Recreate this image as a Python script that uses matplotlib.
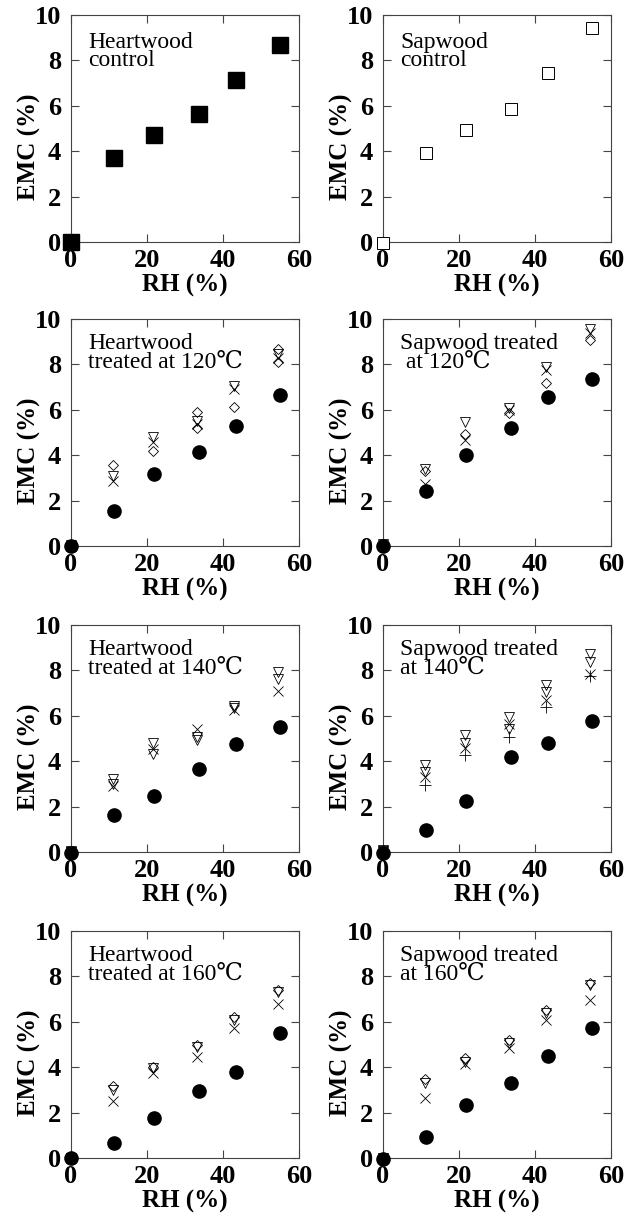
import numpy as np
import matplotlib
matplotlib.use("Agg")
import matplotlib.pyplot as plt

plt.rcParams['font.family'] = ['Liberation Serif', 'DejaVu Serif', 'Noto Sans CJK JP']

nan = np.nan

# RH levels (filled markers / open markers sit a little to the left)
rh = [0, 11.3, 21.9, 33.6, 43.4, 55.0]
rh_open = [0, 11.0, 21.5, 33.2, 43.0, 54.6]

# controls
hw_ctrl = [0, 3.72, 4.70, 5.66, 7.13, 8.68]
sw_ctrl = [-0.05, 3.93, 4.93, 5.88, 7.44, 9.41]

# 120 C
hw120_circ = [0, 1.52, 3.18, 4.13, 5.28, 6.63]
hw120_tri = [0.05, 3.10, 4.80, 5.50, 7.05, 8.45]
hw120_cross = [0, 2.88, 4.60, 5.37, 6.90, 8.30]
hw120_dia = [0, 3.58, 4.20, 5.92, 6.14, 8.70]
hw120_dia2 = [nan, nan, nan, 5.22, nan, 8.12]

sw120_circ = [0, 2.43, 4.00, 5.19, 6.55, 7.35]
sw120_tri = [0.1, 3.40, 5.45, 6.10, 7.90, 9.57]
sw120_cross = [0.05, 2.75, 4.65, 6.00, 7.75, 9.40]
sw120_dia = [0.05, 3.30, 4.92, 5.88, 7.20, 9.06]

# 140 C
hw140_circ = [-0.05, 1.62, 2.45, 3.66, 4.75, 5.50]
hw140_tri = [0.05, 3.20, 4.80, 5.05, 6.45, 7.95]
hw140_tri2 = [0, 3.00, 4.30, 4.95, 6.35, 7.60]
hw140_cross = [0, 2.92, 4.55, 5.40, 6.25, 7.10]

sw140_circ = [-0.05, 0.95, 2.25, 4.18, 4.80, 5.75]
sw140_tri = [0.1, 3.83, 5.15, 5.95, 7.34, 8.73]
sw140_tri2 = [0.05, 3.54, 4.78, 5.40, 7.04, 8.36]
sw140_cross = [0, 3.32, 4.56, 5.65, 6.68, 7.85]
sw140_plus = [0, 2.95, 4.27, 5.05, 6.39, 7.75]

# 160 C
hw160_circ = [0, 0.66, 1.78, 2.96, 3.81, 5.50]
hw160_dia = [0, 3.18, 4.03, 4.98, 6.22, 7.42]
hw160_tri = [0, 3.00, 3.95, 4.88, 6.08, 7.32]
hw160_cross = [0, 2.50, 3.73, 4.47, 5.71, 6.78]

sw160_circ = [-0.05, 0.91, 2.32, 3.32, 4.51, 5.72]
sw160_dia = [0, 3.47, 4.39, 5.20, 6.54, 7.72]
sw160_tri = [0, 3.32, 4.25, 5.08, 6.37, 7.61]
sw160_cross = [0, 2.64, 4.14, 4.83, 6.08, 6.98]

labels = ["Heartwood\ncontrol", "Sapwood\ncontrol",
          "Heartwood\ntreated at 120℃", "Sapwood treated\n at 120℃",
          "Heartwood\ntreated at 140℃", "Sapwood treated\nat 140℃",
          "Heartwood\ntreated at 160℃", "Sapwood treated\nat 160℃"]

styles = {
    'sq': dict(marker='s', ms=11, mfc='black', mec='black'),
    'osq': dict(marker='s', ms=8, mfc='white', mec='black', mew=0.7),
    'circ': dict(marker='o', ms=9.5, mfc='black', mec='black'),
    'tri': dict(marker='v', ms=7.5, mfc='none', mec='black', mew=0.6),
    'dia': dict(marker='D', ms=5.5, mfc='none', mec='black', mew=0.6),
    'cross': dict(marker='x', ms=7.5, mec='black', mew=0.6),
    'plus': dict(marker='+', ms=8, mec='black', mew=0.6),
}

panels = [
    [('sq', hw_ctrl)],
    [('osq', sw_ctrl)],
    [('dia', hw120_dia), ('dia', hw120_dia2), ('tri', hw120_tri), ('cross', hw120_cross), ('circ', hw120_circ)],
    [('dia', sw120_dia), ('tri', sw120_tri), ('cross', sw120_cross), ('circ', sw120_circ)],
    [('tri', hw140_tri), ('tri', hw140_tri2), ('cross', hw140_cross), ('circ', hw140_circ)],
    [('tri', sw140_tri), ('tri', sw140_tri2), ('cross', sw140_cross), ('plus', sw140_plus), ('circ', sw140_circ)],
    [('dia', hw160_dia), ('tri', hw160_tri), ('cross', hw160_cross), ('circ', hw160_circ)],
    [('dia', sw160_dia), ('tri', sw160_tri), ('cross', sw160_cross), ('circ', sw160_circ)],
]

W, H = 639, 1216
fig = plt.figure(figsize=(W / 100, H / 100), dpi=100)
col_left = [71, 383]
row_top = [15, 319, 625, 931]
aw, ah = 228, 227

for i, series in enumerate(panels):
    l = col_left[i % 2]
    t = row_top[i // 2]
    ax = fig.add_axes([l / W, 1 - (t + ah) / H, aw / W, ah / H])
    for key, vals in series:
        st = styles[key]
        xs = rh if key in ('sq', 'osq', 'circ') else rh_open
        ax.plot(xs, vals, ls='none', clip_on=False, zorder=3, **st)
    ax.set_xlim(0, 60)
    ax.set_ylim(0, 10)
    ax.set_xticks([0, 20, 40, 60])
    ax.set_yticks([0, 2, 4, 6, 8, 10])
    ax.tick_params(direction='in', top=True, right=True, length=6, width=0.8,
                   labelsize=19, color='#444444')
    ax.tick_params(axis='x', pad=5)
    ax.tick_params(axis='y', pad=7)
    for lab in ax.get_xticklabels() + ax.get_yticklabels():
        lab.set_fontweight('bold')
    for sp in ax.spines.values():
        sp.set_linewidth(0.8)
        sp.set_color('#444444')
    ax.set_xlabel("RH (%)", fontsize=18, fontweight='bold')
    ax.set_ylabel("EMC (%)", fontsize=18, fontweight='bold')
    ax.xaxis.set_label_coords(0.5, -0.14)
    ax.yaxis.set_label_coords(-0.13, 0.42)
    ls = 0.8 if i < 2 else 0.9
    ty = 0.925 if i < 2 else 0.94
    ax.text(0.075, ty, labels[i], transform=ax.transAxes, ha='left', va='top',
            fontsize=17, linespacing=ls)

fig.savefig("out.png", dpi=100)
